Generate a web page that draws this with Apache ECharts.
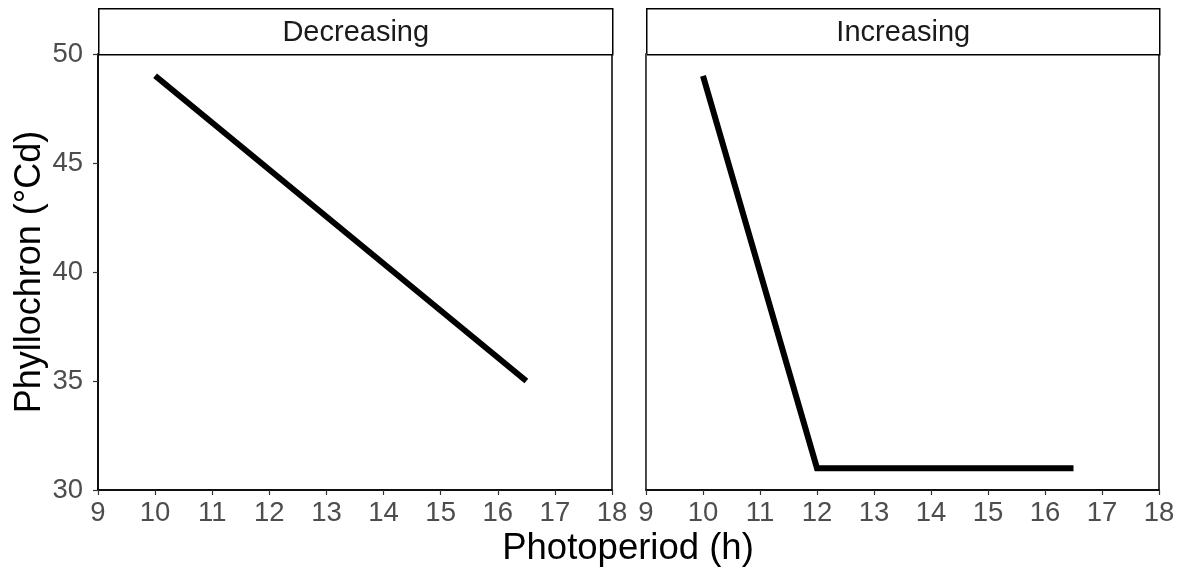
<!DOCTYPE html>
<html>
<head>
<meta charset="utf-8">
<script src="https://cdn.jsdelivr.net/npm/echarts@6/dist/echarts.min.js"></script>
<style>html,body{margin:0;padding:0;background:#fff}#c{width:1184px;height:572px}</style>
</head>
<body>
<div id="c"></div>
<script>
const panels = ['Decreasing', 'Increasing'];
const decreasingX = [10, 16.5];
const decreasingY = [49, 35];
const increasingX = [10, 12, 16.5];
const increasingY = [49, 31, 31];
const xTicks = [9, 10, 11, 12, 13, 14, 15, 16, 17, 18];
const yTicks = [30, 35, 40, 45, 50];

const chart = echarts.init(document.getElementById('c'), null, {renderer: 'canvas'});
const font = 'Liberation Sans, Arial, sans-serif';
const grids = [
  {left: 98, right: 572, top: 54, bottom: 82},
  {left: 646, right: 25, top: 54, bottom: 82}
];
function xAxis(i) {
  return {
    gridIndex: i, type: 'value', min: xTicks[0], max: xTicks[xTicks.length - 1], interval: 1,
    axisLine: {show: true, onZero: false, lineStyle: {color: '#000', width: 1.5}},
    axisTick: {show: true, length: 5, lineStyle: {color: '#333', width: 1.2}},
    axisLabel: {fontSize: 27.5, color: '#4d4d4d', fontFamily: font, margin: 9, showMinLabel: true, showMaxLabel: true},
    splitLine: {show: false}
  };
}
function yAxis(i) {
  return {
    gridIndex: i, type: 'value', min: yTicks[0], max: yTicks[yTicks.length - 1], interval: 5,
    name: i === 0 ? 'Phyllochron (°Cd)' : '', nameLocation: 'middle', nameGap: 50,
    nameTextStyle: {fontSize: 36, color: '#000', fontFamily: font},
    axisLine: {show: true, lineStyle: {color: i === 0 ? '#000' : '#555', width: i === 0 ? 1.5 : 1}},
    axisTick: {show: i === 0, length: 5, lineStyle: {color: '#333', width: 1.2}},
    axisLabel: {show: i === 0, fontSize: 27.5, color: '#4d4d4d', fontFamily: font, margin: 15},
    splitLine: {show: false}
  };
}
function toPairs(xs, ys) { return xs.map((x, k) => [x, ys[k]]); }

const strips = grids.map((g, i) => {
  const w = 1184 - g.left - g.right;
  return {
    type: 'group', left: g.left, top: 8,
    children: [
      {type: 'rect', shape: {x: 0, y: 0, width: w, height: 46}, style: {fill: '#fff', stroke: '#000', lineWidth: 1.5}},
      {type: 'text', x: w / 2, y: 24, style: {text: panels[i], fill: '#1a1a1a', font: '29px ' + font, textAlign: 'center', textVerticalAlign: 'middle'}}
    ]
  };
});

chart.setOption({
  animation: false,
  backgroundColor: '#fff',
  grid: grids.map(g => Object.assign({show: true, borderColor: '#000', borderWidth: 1.5, backgroundColor: 'transparent'}, g)),
  xAxis: [xAxis(0), xAxis(1)],
  yAxis: [yAxis(0), yAxis(1)],
  series: [
    {type: 'line', xAxisIndex: 0, yAxisIndex: 0, data: toPairs(decreasingX, decreasingY), showSymbol: false,
     lineStyle: {color: '#000', width: 6, cap: 'butt'}},
    {type: 'line', xAxisIndex: 1, yAxisIndex: 1, data: toPairs(increasingX, increasingY), showSymbol: false,
     lineStyle: {color: '#000', width: 6, cap: 'butt', join: 'miter'}}
  ],
  graphic: strips.concat([
    {type: 'text', x: 628, y: 549, style: {text: 'Photoperiod (h)', fill: '#000', font: '36.5px ' + font, textAlign: 'center', textVerticalAlign: 'middle'}}
  ])
});
</script>
</body>
</html>
